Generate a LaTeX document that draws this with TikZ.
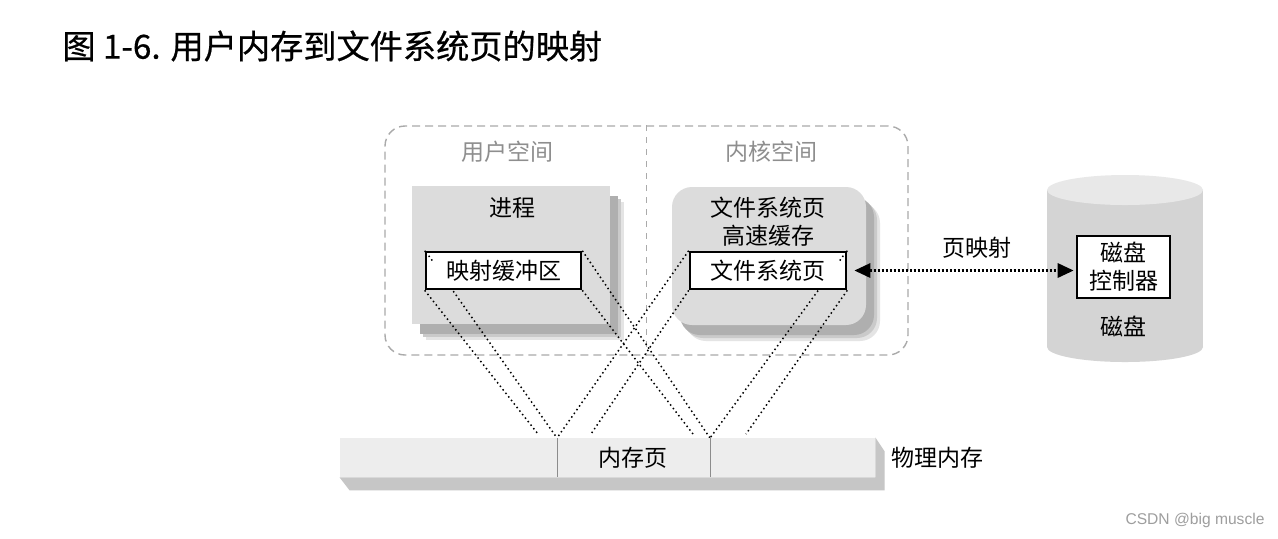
\documentclass[tikz,border=0pt]{standalone}
\usepackage{fontspec}
\newfontfamily\cjk{Noto Sans CJK SC}
\newfontfamily\cjktitle[FakeBold=0.6]{Noto Sans CJK SC}
\newfontfamily\wmfont{Liberation Sans}
\usepackage{tikz}
\usetikzlibrary{arrows.meta,positioning,shadows}
\definecolor{PanelGray}{HTML}{DCDCDC}
\definecolor{ShadeGray}{HTML}{A6A6A6}
\definecolor{FrameGray}{HTML}{AAAAAA}
\definecolor{LabelGray}{HTML}{8E8E8E}
\definecolor{BarFront}{HTML}{EDEDED}
\definecolor{BarSide}{HTML}{C6C6C6}
\definecolor{DiskBody}{HTML}{D4D4D4}
\definecolor{DiskTop}{HTML}{E8E8E8}
\definecolor{MarkGray}{HTML}{9E9E9E}
\newcommand\diagfont{\cjk\fontsize{11.5pt}{14pt}\selectfont}
\pgfdeclarelayer{back}
\pgfdeclarelayer{mid}
\pgfsetlayers{back,mid,main}
\tikzset{
  titletext/.style={font=\cjktitle\fontsize{16.6pt}{20pt}\selectfont,inner sep=0pt},
  spaceframe/.style={draw=FrameGray,line width=0.7pt,dash pattern=on 4pt off 2.5pt,rounded corners=10pt,inner sep=0pt},
  spacedash/.style={draw=FrameGray,line width=0.6pt,dash pattern=on 3pt off 3pt},
  spacelabel/.style={font=\diagfont,text=LabelGray,inner sep=2pt},
  procbox/.style={fill=PanelGray,inner sep=0pt,
    drop shadow={shadow xshift=7pt,shadow yshift=-8pt,fill=ShadeGray!30,opacity=1},
    drop shadow={shadow xshift=5.5pt,shadow yshift=-6.5pt,fill=ShadeGray!60,opacity=1},
    drop shadow={shadow xshift=4pt,shadow yshift=-5pt,fill=ShadeGray!90,opacity=1}},
  mapbox/.style={draw=black,line width=1.3pt,fill=white,inner sep=0pt,font=\diagfont},
  boxtext/.style={font=\diagfont,inner sep=2pt,align=center},
  mapline/.style={draw=black,line width=0.75pt,dash pattern=on 0.75pt off 1.5pt},
  pagearrow/.style={{Triangle[length=8pt,width=7pt]}-{Triangle[length=8pt,width=7pt]},line width=1.5pt,dash pattern=on 1.1pt off 0.9pt,shorten <=3.5pt,shorten >=1pt},
  pageedge/.style={draw=black!45,line width=0.5pt}
}
\begin{document}
\begin{tikzpicture}[x=0.5pt,y=-0.5pt]
\begin{pgfonlayer}{back}
\fill[white] (0,0) rectangle (1278,538);
\end{pgfonlayer}
\useasboundingbox (0,0) rectangle (1278,538);
\node[titletext,anchor=west] (title) at (62,46) {图 1-6. 用户内存到文件系统页的映射};
% user / kernel space
\begin{pgfonlayer}{back}
\node[spaceframe,minimum width=261.5pt,minimum height=114.5pt] (space) at (646.5,240.5) {};
\draw[spacedash] (space.north) -- (space.south);
\node[procbox,minimum width=99pt,minimum height=69pt] (proc) at (511,255) {};
\node[procbox,rounded corners=10pt,minimum width=97pt,minimum height=69pt] (kern) at (769,256) {};
\end{pgfonlayer}
\node[spacelabel] (ulabel) at (507,152) {用户空间};
\node[spacelabel] (klabel) at (771,152) {内核空间};
\node[boxtext] (ptitle) at (512,208) {进程};
\node[boxtext] (ktitle) at (768,222) {文件系统页\\高速缓存};
\node[mapbox,minimum width=77.5pt,minimum height=18.5pt] (buf) at (503.5,270.5) {映射缓冲区};
\node[mapbox,minimum width=78pt,minimum height=18.5pt] (fs) at (768,270.5) {文件系统页};
% disk
\fill[DiskBody] (1047,190) rectangle (1203,347);
\fill[DiskBody] (1125,347) ellipse [x radius=78,y radius=15];
\fill[DiskTop] (1125,190) ellipse [x radius=78,y radius=15];
\node[mapbox,minimum width=46.5pt,minimum height=31pt,align=center] (ctrl) at (1123.5,267) {磁盘\\控制器};
\node[boxtext,below=6pt of ctrl] (disk) {磁盘};
\draw[pagearrow] (fs.east) -- (fs.east -| ctrl.west);
\node[boxtext] (maplabel) at (977,248) {页映射};
% physical memory
\node[fill=BarFront,inner sep=0pt,minimum width=267.5pt,minimum height=19.5pt] (mem) at (607.5,457.5) {};
\fill[BarSide] (mem.south west) -- ++(10,13) -- ++(535,0) -- ++(0,-39) -- (mem.north east) -- (mem.south east) -- cycle;
\coordinate (pgL) at (557,438);
\coordinate (pgR) at (710,438);
\draw[pageedge] (pgL) -- (pgL |- mem.south);
\draw[pageedge] (pgR) -- (pgR |- mem.south);
\node[boxtext] (page) at (633,458) {内存页};
\node[boxtext,right=6pt of mem] (phys) {物理内存};
\coordinate (hidA) at (538,434);
\coordinate (hidB) at (591,434);
\coordinate (hidC) at (693,434);
\coordinate (hidD) at (746,434);
\begin{pgfonlayer}{mid}
\draw[mapline] (buf.north west) -- (pgL);
\draw[mapline] (buf.south west) -- (hidA);
\draw[mapline] (buf.north east) -- (pgR);
\draw[mapline] (buf.south east) -- (hidC);
\draw[mapline] (fs.north west) -- (pgL);
\draw[mapline] (fs.south west) -- (hidB);
\draw[mapline] (fs.north east) -- (pgR);
\draw[mapline] (fs.south east) -- (hidD);
\end{pgfonlayer}
\draw[mapline] (buf.north west) ++(4,5) -- ++(4,5.5);
\draw[mapline] (fs.north east) ++(-4,5) -- ++(-4,5.5);
\node[font=\wmfont\fontsize{7.8pt}{9pt}\selectfont,text=MarkGray] (mark) at (1195,520) {CSDN @big muscle};
\end{tikzpicture}
\end{document}
